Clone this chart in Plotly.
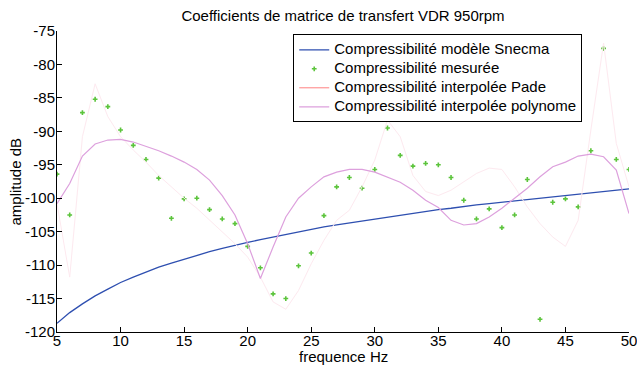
import plotly.graph_objects as go

freq = list(range(5, 51))

snecma = [-118.7, -117.1, -115.8, -114.6, -113.6, -112.6, -111.8, -111.0, -110.3, -109.7,
          -109.1, -108.5, -108.0, -107.5, -107.0, -106.6, -106.2, -105.8, -105.4, -105.0,
          -104.6, -104.3, -104.0, -103.7, -103.4, -103.1, -102.8, -102.5, -102.2, -102.0,
          -101.7, -101.5, -101.2, -101.0, -100.8, -100.6, -100.4, -100.2, -100.0, -99.8,
          -99.6, -99.4, -99.2, -99.0, -98.8, -98.6]

mesure = [-96.4, -102.5, -87.2, -85.2, -86.3, -89.8, -92.1, -94.2, -97.0, -103.0,
          -100.1, -100.0, -101.7, -103.1, -103.8, -107.2, -110.4, -114.3, -115.0, -110.1,
          -108.2, -102.6, -98.3, -96.9, -98.5, -95.7, -89.5, -93.6, -95.2, -94.8,
          -95.0, -96.9, -100.3, -103.1, -101.6, -104.4, -102.5, -97.2, -118.1, -100.6,
          -100.1, -101.3, -92.9, -77.6, -94.2, -95.7]

pade = [-100.8, -111.8, -90.8, -82.9, -87.8, -90.8, -92.8, -94.6, -96.6, -98.3,
        -100.0, -101.5, -103.3, -105.0, -106.8, -108.8, -111.8, -115.5, -116.6, -113.8,
        -109.8, -106.3, -103.3, -101.8, -98.3, -94.3, -88.3, -90.8, -96.6, -99.0,
        -99.6, -98.8, -97.6, -96.3, -95.5, -95.7, -98.3, -101.3, -103.8, -105.8,
        -107.2, -103.3, -89.8, -76.8, -91.8, -98.3]

polynome = [-100.8, -97.8, -93.7, -91.9, -91.3, -91.2, -91.6, -92.2, -92.9, -93.7,
            -94.6, -95.7, -97.3, -99.6, -102.5, -106.8, -112.0, -107.3, -102.8, -100.0,
            -98.3, -96.8, -96.1, -95.7, -95.7, -96.1, -96.8, -97.6, -98.8, -100.3,
            -101.4, -103.3, -104.0, -103.8, -102.8, -101.5, -100.0, -98.5, -96.8, -95.3,
            -94.6, -93.7, -93.4, -93.8, -95.8, -102.3]

x_ticks = [5, 10, 15, 20, 25, 30, 35, 40, 45, 50]
x_labels = ["5", "10", "15", "20", "25", "30", "35", "40", "45", "50"]
y_ticks = [-120, -115, -110, -105, -100, -95, -90, -85, -80, -75]
y_labels = ["-120", "-115", "-110", "-105", "-100", "-95", "-90", "-85", "-80", "-75"]

names = ["Compressibilité modèle Snecma", "Compressibilité mesurée",
         "Compressibilité interpolée Pade", "Compressibilité interpolée polynome"]

FONT = "Liberation Sans, Arial, sans-serif"


def lg(name):
    return '<span style="font-size:15px">' + name + '</span>'


fig = go.Figure()
fig.add_trace(go.Scatter(x=freq, y=snecma, mode="lines", name=lg(names[0]),
                         line=dict(color="#2E4FB0", width=1.3)))
fig.add_trace(go.Scatter(x=freq, y=mesure, mode="markers", name=lg(names[1]),
                         marker=dict(symbol="cross", size=4, color="#5CC43C")))
fig.add_trace(go.Scatter(x=freq, y=pade, mode="lines", showlegend=False,
                         line=dict(color="#FDE9EF", width=1)))
fig.add_trace(go.Scatter(x=[None], y=[None], mode="lines", name=lg(names[2]),
                         line=dict(color="#FF8080", width=1)))
fig.add_trace(go.Scatter(x=freq, y=polynome, mode="lines", name=lg(names[3]),
                         line=dict(color="#DDA0DD", width=1.2)))

axis_common = dict(showgrid=False, zeroline=False, showline=True, linecolor="black", linewidth=1,
                   ticks="inside", ticklen=5, tickcolor="black", tickwidth=1, automargin=False,
                   ticklabeloverflow="allow",
                   tickfont=dict(family=FONT, size=15, color="black"), mirror=False)

fig.update_xaxes(range=[5, 50], tickmode="array", tickvals=x_ticks, ticktext=x_labels,
                 ticklabelstandoff=-5, **axis_common)
fig.update_yaxes(range=[-120, -75], tickmode="array", tickvals=y_ticks, ticktext=y_labels,
                 ticklabelstandoff=-2, **axis_common)

fig.update_layout(
    width=637, height=367,
    margin=dict(l=57, r=8, t=31, b=35, pad=0, autoexpand=False),
    paper_bgcolor="white", plot_bgcolor="white",
    font=dict(family=FONT, size=15, color="black"),
    title=dict(text="Coefficients de matrice de transfert VDR 950rpm", x=0.5, xref="paper",
               y=1 - 16 / 367, yref="container", yanchor="middle",
               font=dict(family=FONT, size=15, color="black")),
    legend=dict(x=0.413, y=0.989, xanchor="left", yanchor="top", bgcolor="white",
                bordercolor="black", borderwidth=1, font=dict(family=FONT, size=11, color="black"),
                tracegroupgap=0, itemwidth=30),
    annotations=[
        dict(text="frequence Hz", xref="paper", yref="paper", x=0.5, y=0, yshift=-24,
             showarrow=False, yanchor="middle", font=dict(family=FONT, size=15, color="black")),
        dict(text="amplitude dB", xref="paper", yref="paper", x=0, y=0.5, xshift=-42,
             showarrow=False, textangle=-90, xanchor="center",
             font=dict(family=FONT, size=15, color="black")),
    ],
    showlegend=True,
)

fig.write_html("out.html", config={"displayModeBar": False},
               post_script="document.body.style.margin='0';document.body.style.padding='0';")
